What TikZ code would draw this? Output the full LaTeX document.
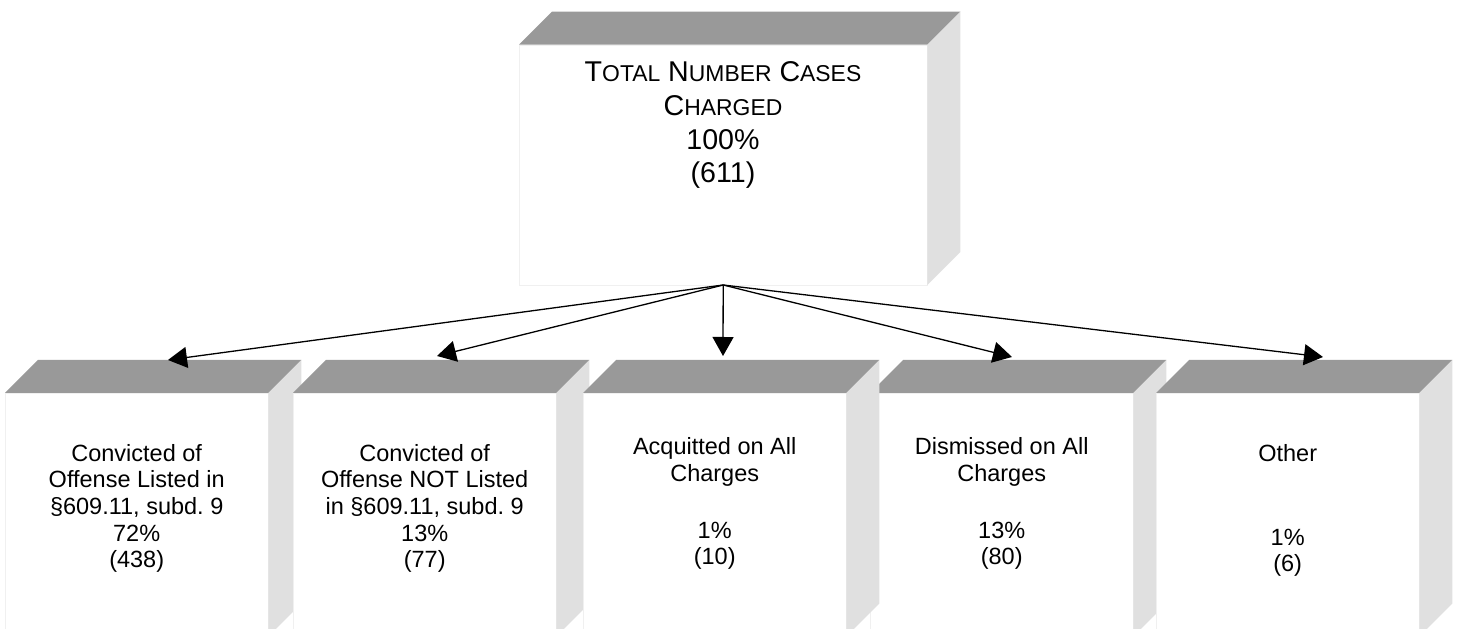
\documentclass[tikz,border=0pt]{standalone}
\usepackage{fontspec}
\setmainfont{Liberation Sans}
\usetikzlibrary{calc}
\usetikzlibrary{arrows.meta}

\definecolor{topgray}{RGB}{153,153,153}
\definecolor{sidegray}{RGB}{224,224,224}

\newcommand{\smallcap}{\fontsize{22.9}{33.7}\selectfont}
% top and side faces of a block, drawn round its front node
\newcommand{\blockfaces}[1]{%
	\fill[topface] (#1.north west) -- ++(33,33) -- ($(#1.north east)+(33,33)$) -- (#1.north east) -- cycle;
	\fill[sideface] (#1.north east) -- ++(33,33) -- ($(#1.south east)+(33,33)$) -- (#1.south east) -- cycle;
}

\begin{document}
\begin{tikzpicture}[
	x=1pt,
	y=1pt,
	front/.style={draw=gray!12, fill=white, inner sep=0pt, anchor=north west, minimum width=263pt, minimum height=243pt},
	topface/.style={fill=topgray},
	sideface/.style={fill=sidegray},
	blocktext/.style={align=center, anchor=base, inner sep=0pt, font=\fontsize{23.5}{26.7}\selectfont},
	toptext/.style={align=center, anchor=base, inner sep=0pt, font=\fontsize{28.6}{33.7}\selectfont},
	arrow/.style={-{Triangle[length=19pt,width=21pt]}, line width=1.3pt},
]
\useasboundingbox (0,0) rectangle (1462,629);

% Top block
\node[front, anchor=south west, minimum width=408pt, minimum height=240pt](total) at (519,344) {};
\blockfaces{total}
\node[toptext](total-txt) at (723,446) {T{\smallcap OTAL} N{\smallcap UMBER} C{\smallcap ASES}\\ C{\smallcap HARGED}\\ 100\%\\ (611)};

% Outcome blocks
\node[front](conv) at (5,236) {};
\blockfaces{conv}
\node[blocktext](conv-txt) at (conv.north|-0,61) {Convicted of\\ Offense Listed in\\ \S609.11, subd.\ 9\\ 72\%\\ (438)};

\node[front](convnot) at (293,236) {};
\blockfaces{convnot}
\node[blocktext](convnot-txt) at (convnot.north|-0,61) {Convicted of\\ Offense NOT Listed\\ in \S609.11, subd.\ 9\\ 13\%\\ (77)};

\node[front](dism) at (870,236) {};
\blockfaces{dism}
\node[blocktext](dism-txt) at (dism.north|-0,64) {Dismissed on All\\ Charges\\[30pt] 13\%\\ (80)};

\node[front](other) at (1156,236) {};
\blockfaces{other}
\node[blocktext](other-txt) at (other.north|-0,57) {Other\\[57pt] 1\%\\ (6)};

\node[front](acq) at (583,236) {};
\blockfaces{acq}
\node[blocktext](acq-txt) at (acq.north|-0,64) {Acquitted on All\\ Charges\\[30pt] 1\%\\ (10)};

% Arrow tips
\coordinate (conv-in) at (168,269);
\coordinate (convnot-in) at (437,273);
\coordinate (acq-in) at (723,273);
\coordinate (dism-in) at (1012,272);
\coordinate (other-in) at (1323,272);

\draw[arrow] (total.south) -- (conv-in);
\draw[arrow] (total.south) -- (convnot-in);
\draw[arrow] (total.south) -- (acq-in);
\draw[arrow] (total.south) -- (dism-in);
\draw[arrow] (total.south) -- (other-in);
\end{tikzpicture}
\end{document}
